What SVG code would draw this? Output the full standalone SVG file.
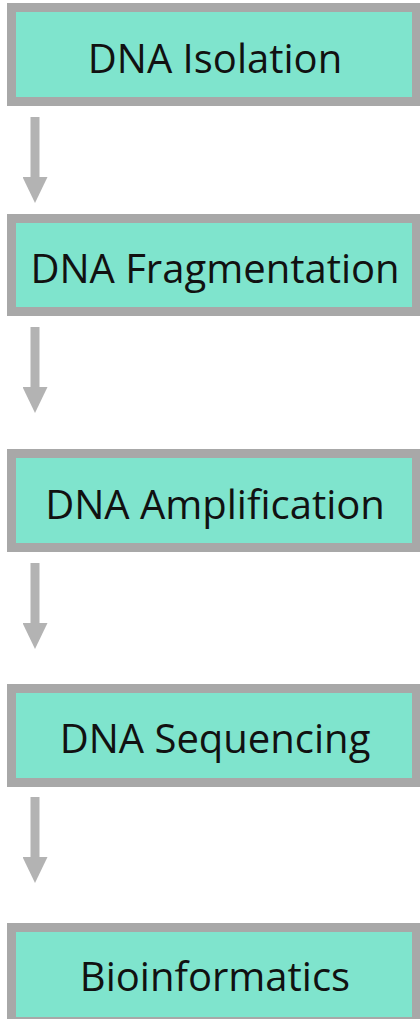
<svg xmlns="http://www.w3.org/2000/svg" width="420" height="1019" viewBox="0 0 420 1019">
<style>
.box{fill:#7fe4cd;stroke:#a8a8a8;stroke-width:9}
.lbl{font-family:"Open Sans","Noto Sans",sans-serif;font-size:40px;fill:#111;text-anchor:middle}
.conn{stroke:#b3b3b3;stroke-width:9;fill:none}
</style>
<defs>
<marker id="ah" viewBox="0 0 26 25" refX="0" refY="12.5" markerWidth="26" markerHeight="25" markerUnits="userSpaceOnUse" orient="auto">
<path d="M0,0 L26,12.5 L0,25 z" fill="#b3b3b3"/>
</marker>
</defs>
<rect width="420" height="1019" fill="#ffffff"/>
<g id="connectors">
<line class="conn" x1="35" y1="117" x2="35" y2="177" marker-end="url(#ah)"/>
<line class="conn" x1="35" y1="327" x2="35" y2="387" marker-end="url(#ah)"/>
<line class="conn" x1="35" y1="563" x2="35" y2="623" marker-end="url(#ah)"/>
<line class="conn" x1="35" y1="797" x2="35" y2="857" marker-end="url(#ah)"/>
</g>
<g id="node1">
<rect class="box" x="11.5" y="7.5" width="405" height="94"/>
<text class="lbl" x="215" y="73">DNA Isolation</text>
</g>
<g id="node2">
<rect class="box" x="11.5" y="218.5" width="405" height="93"/>
<text class="lbl" x="215" y="283">DNA Fragmentation</text>
</g>
<g id="node3">
<rect class="box" x="11.5" y="453.5" width="405" height="94"/>
<text class="lbl" x="215" y="519">DNA Amplification</text>
</g>
<g id="node4">
<rect class="box" x="11.5" y="688.5" width="405" height="94"/>
<text class="lbl" x="215" y="753">DNA Sequencing</text>
</g>
<g id="node5">
<rect class="box" x="11.5" y="927.5" width="405" height="94"/>
<text class="lbl" x="215" y="991">Bioinformatics</text>
</g>
</svg>
